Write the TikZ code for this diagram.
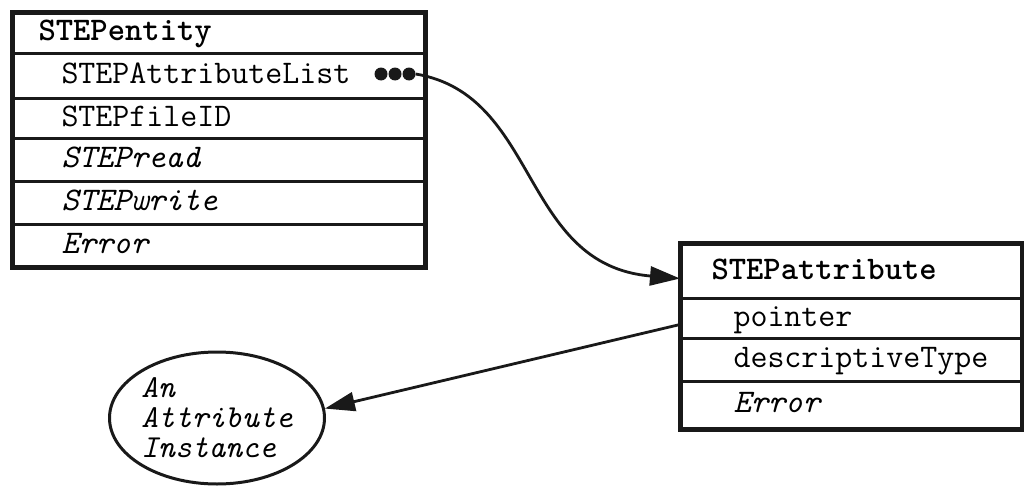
\documentclass[tikz,border=0pt]{standalone}
\usetikzlibrary{shapes.geometric,arrows.meta}
\begin{document}
\begin{tikzpicture}[x=1pt,y=-1pt,
  txt/.style={font=\fontsize{33}{36}\selectfont\ttfamily},
  rowbox/.style={txt, draw=black!90, line width=3pt, inner xsep=0pt, inner ysep=0pt,
    align=left, anchor=north west, text height=22pt, text depth=7pt},
  lrow/.style={rowbox, text width=411pt},
  rrow/.style={rowbox, text width=340pt},
  dot/.style={circle, fill=black!90, inner sep=0pt, minimum size=13pt},
  conn/.style={line width=2.8pt, draw=black!90, -{Triangle[length=30pt,width=19pt]}}
]
\useasboundingbox (0,0) rectangle (1024,487);
% left box
\node[lrow, minimum height=40pt] (e0) at (12,12) {\hspace*{25pt}\bfseries STEPentity};
\node[lrow, minimum height=45pt] (e1) at (12,52) {\hspace*{48pt}STEPAttributeList};
\node[lrow, minimum height=40pt] (e2) at (12,97) {\hspace*{48pt}STEPfileID};
\node[lrow, minimum height=43pt] (e3) at (12,137) {\hspace*{48pt}\itshape STEPread};
\node[lrow, minimum height=43pt] (e4) at (12,180) {\hspace*{48pt}\itshape STEPwrite};
\node[lrow, minimum height=42pt] (e5) at (12,223) {\hspace*{48pt}\itshape Error};
\draw[line width=3.6pt, draw=black!90] (e0.north west) rectangle (e5.south east);
% dots
\node[dot] (d1) at (381,74) {};
\node[dot] (d2) at (395,74) {};
\node[dot] (d3) at (409,74) {};
% right box
\node[rrow, minimum height=54pt] (r0) at (680,243) {\hspace*{30pt}\bfseries STEPattribute};
\node[rrow, minimum height=40pt] (r1) at (680,297) {\hspace*{52pt}pointer};
\node[rrow, minimum height=43pt] (r2) at (680,337) {\hspace*{52pt}descriptiveType};
\node[rrow, minimum height=47pt] (r3) at (680,380) {\hspace*{52pt}\itshape Error};
\draw[line width=3.6pt, draw=black!90] (r0.north west) rectangle (r3.south east);
% ellipse
\node[txt, ellipse, draw=black!90, line width=3pt, minimum width=215pt, minimum height=132pt,
  inner sep=0pt, align=left, font=\fontsize{32}{30}\selectfont\ttfamily\itshape] (ell) at (217,418)
  {An\\Attribute\\Instance};
% connectors
\draw[conn] (d3.east) .. controls (540,95) and (520,265) .. ([yshift=-7pt]r0.west);
\draw[conn] ([yshift=-6pt]r1.west) -- (ell.5);
\end{tikzpicture}
\end{document}
